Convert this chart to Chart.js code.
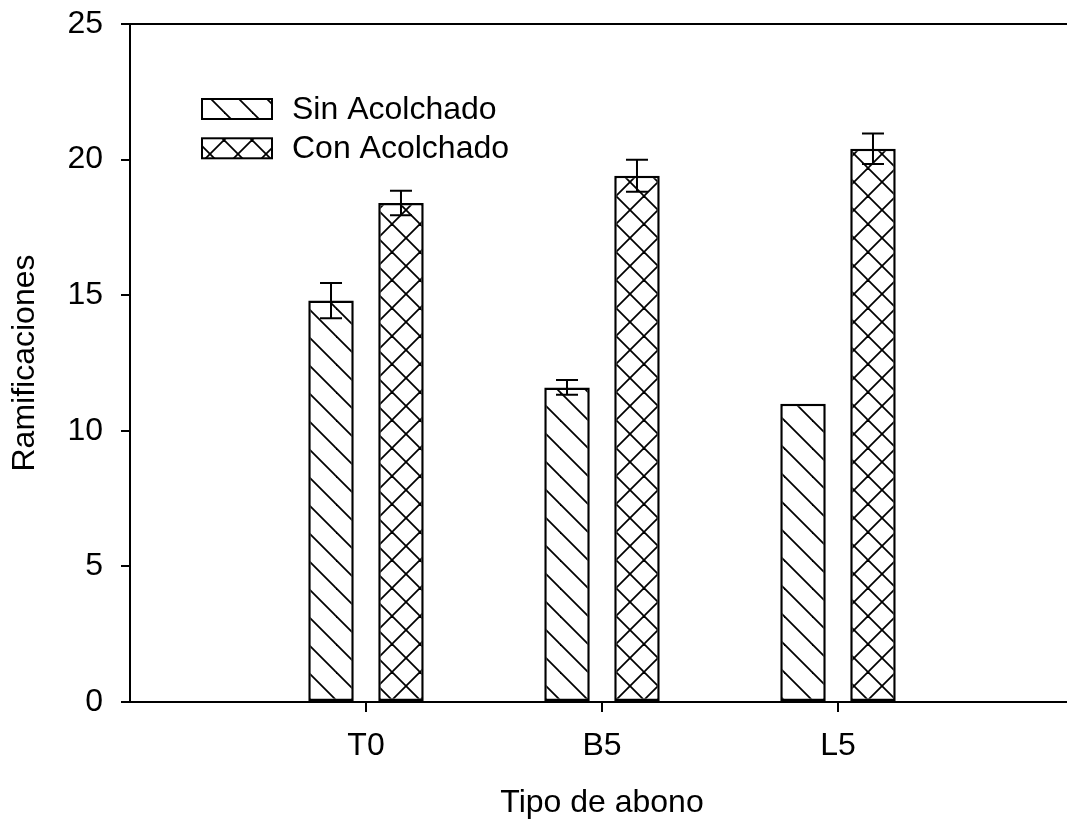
<!DOCTYPE html>
<html>
<head>
<meta charset="utf-8">
<script src="https://cdn.jsdelivr.net/npm/chart.js@4.4.0/dist/chart.umd.min.js"></script>
<style>
html, body { margin: 0; padding: 0; background: #fff; overflow: hidden; }
#wrap { width: 1074px; height: 823px; }
</style>
</head>
<body>
<div id="wrap"><canvas id="ramChart" width="1074" height="823"></canvas></div>
<script>
const categories = ['T0', 'B5', 'L5'];
const sinValues = [14.8, 11.6, 11.0];
const sinErrors = [0.65, 0.27, 0];
const conValues = [18.4, 19.4, 20.4];
const conErrors = [0.45, 0.59, 0.56];
const yTicks = [0, 5, 10, 15, 20, 25];
const seriesNames = ['Sin Acolchado', 'Con Acolchado'];

const FONT = '"Liberation Sans", Arial, sans-serif';
const FSIZE = 32;
const ctx = document.getElementById('ramChart').getContext('2d');

// hatch fill: "\" lines, or crossed lines for the second series
function hatch(cross) {
    const s = 28;
    const c = document.createElement('canvas');
    c.width = s; c.height = s;
    const g = c.getContext('2d');
    g.fillStyle = '#fff';
    g.fillRect(0, 0, s, s);
    g.strokeStyle = '#000';
    g.lineWidth = 1.8;
    for (let k = -1; k <= 1; k++) {
        g.beginPath(); g.moveTo(-2, -2 + k * s); g.lineTo(s + 2, s + 2 + k * s); g.stroke();
        if (cross) {
            g.beginPath(); g.moveTo(-2, s + 2 + k * s); g.lineTo(s + 2, -2 + k * s); g.stroke();
        }
    }
    return ctx.createPattern(c, 'repeat');
}

const errorBars = {
    id: 'errorBars',
    afterDatasetsDraw(chart) {
        const c = chart.ctx, y = chart.scales.y;
        c.save();
        c.strokeStyle = '#000';
        c.lineWidth = 2;
        chart.data.datasets.forEach((ds, di) => {
            chart.getDatasetMeta(di).data.forEach((bar, i) => {
                const e = ds.errors[i];
                if (!e) return;
                const v = ds.data[i].y;
                const yt = y.getPixelForValue(v + e), yb = y.getPixelForValue(v - e);
                c.beginPath();
                c.moveTo(bar.x, yt); c.lineTo(bar.x, yb);
                c.moveTo(bar.x - 11, yt); c.lineTo(bar.x + 11, yt);
                c.moveTo(bar.x - 11, yb); c.lineTo(bar.x + 11, yb);
                c.stroke();
            });
        });
        c.restore();
    }
};

const frameLegend = {
    id: 'frameLegend',
    afterDraw(chart) {
        const c = chart.ctx, a = chart.chartArea;
        c.save();
        c.strokeStyle = '#000';
        c.lineWidth = 2;
        c.beginPath(); c.moveTo(a.left - 1, a.top); c.lineTo(a.right, a.top); c.stroke();
        c.font = FSIZE + 'px ' + FONT;
        c.textBaseline = 'alphabetic';
        chart.data.datasets.forEach((ds, i) => {
            const bx = a.left + 72, by = a.top + 75 + i * 39.3;
            c.fillStyle = ds.backgroundColor;
            c.fillRect(bx, by, 70, 20);
            c.strokeRect(bx, by, 70, 20);
            c.fillStyle = '#000';
            c.fillText(ds.label, bx + 90, by + 20);
        });
        c.restore();
    }
};

const toPoints = vals => vals.map((v, i) => ({ x: i + 1, y: v }));

new Chart(ctx, {
    type: 'bar',
    data: {
        datasets: [{
            label: seriesNames[0],
            data: toPoints(sinValues),
            errors: sinErrors,
            backgroundColor: hatch(false)
        }, {
            label: seriesNames[1],
            data: toPoints(conValues),
            errors: conErrors,
            backgroundColor: hatch(true)
        }]
    },
    options: {
        responsive: false,
        animation: false,
        devicePixelRatio: 1,
        layout: { padding: { top: 24, right: 0, bottom: 0, left: 0 } },
        datasets: {
            bar: {
                borderColor: '#000',
                borderWidth: 2.5,
                borderSkipped: false,
                categoryPercentage: 0.593,
                barPercentage: 0.65
            }
        },
        plugins: {
            legend: { display: false },
            tooltip: { enabled: false }
        },
        scales: {
            x: {
                type: 'linear',
                min: 0,
                max: 4,
                offset: false,
                afterBuildTicks: scale => { scale.ticks = categories.map((_, i) => ({ value: i + 1 })); },
                afterFit: scale => { scale.height = 121; scale.paddingLeft = 0; scale.paddingRight = 0; },
                grid: { offset: false, drawOnChartArea: false, color: '#000', lineWidth: 2, tickLength: 10 },
                border: { display: true, color: '#000', width: 2 },
                ticks: {
                    font: { family: FONT, size: FSIZE },
                    color: '#000',
                    padding: 15,
                    maxRotation: 0,
                    autoSkip: false,
                    callback: v => categories[v - 1]
                },
                title: {
                    display: true,
                    text: 'Tipo de abono',
                    font: { family: FONT, size: FSIZE },
                    color: '#000',
                    padding: { top: 0, bottom: 1 }
                }
            },
            y: {
                min: 0,
                max: 25,
                afterBuildTicks: scale => { scale.ticks = yTicks.map(v => ({ value: v })); },
                afterFit: scale => { scale.width = 130; scale.paddingTop = 0; scale.paddingBottom = 0; },
                grid: { drawOnChartArea: false, color: '#000', lineWidth: 2, tickLength: 9 },
                border: { display: true, color: '#000', width: 2 },
                ticks: {
                    font: { family: FONT, size: FSIZE },
                    color: '#000',
                    padding: 18
                },
                title: {
                    display: true,
                    text: 'Ramificaciones',
                    font: { family: FONT, size: FSIZE },
                    color: '#000',
                    padding: { top: 6, bottom: 0 }
                }
            }
        }
    },
    plugins: [errorBars, frameLegend]
});
</script>
</body>
</html>
